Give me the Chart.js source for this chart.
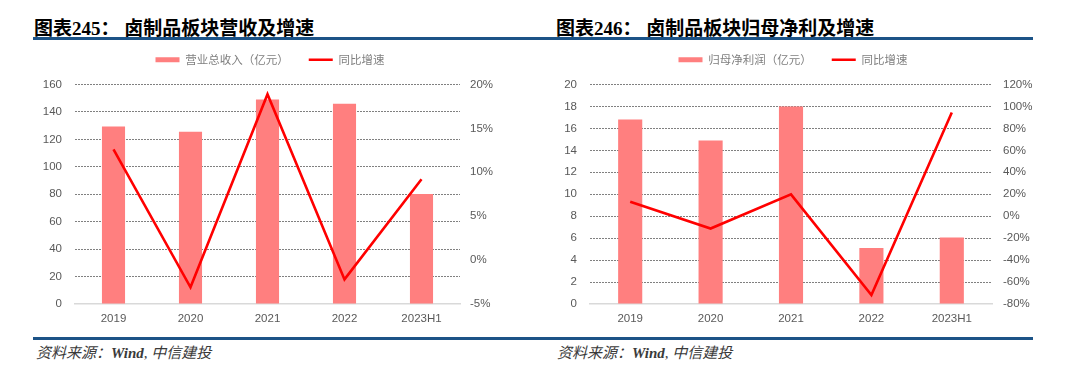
<!DOCTYPE html>
<html>
<head>
<meta charset="utf-8">
<script src="https://cdn.jsdelivr.net/npm/chart.js@4.4.1/dist/chart.umd.min.js"></script>
<style>
  body { margin: 0; width: 1080px; height: 387px; background: #fff; position: relative; overflow: hidden; }
  .title { position: absolute; top: 13px; line-height: 22px; font: bold 19px "Liberation Serif", "Noto Sans CJK SC", serif; color: #000; white-space: pre; }
  .rule { position: absolute; left: 33px; width: 1000px; height: 3px; background: #1c5387; }
  .note { position: absolute; top: 341px; line-height: 20px; font: italic 15px "Liberation Serif", "Noto Sans CJK SC", serif; color: #3a3a3a; }
  .box { position: absolute; top: 34px; width: 540px; height: 300px; }
</style>
</head>
<body>
<div class="title" style="left:34px">图表245： 卤制品板块营收及增速</div>
<div class="title" style="left:556px">图表246： 卤制品板块归母净利及增速</div>
<div class="rule" style="top:37px"></div>
<div class="rule" style="top:337px"></div>
<div class="note" style="left:36px">资料来源：<b>Wind</b>, 中信建投</div>
<div class="note" style="left:557px">资料来源：<b>Wind</b>, 中信建投</div>
<div class="box" style="left:0"><canvas id="c1" width="540" height="300"></canvas></div>
<div class="box" style="left:540px"><canvas id="c2" width="540" height="300"></canvas></div>
<script>
const years = ['2019', '2020', '2021', '2022', '2023H1'];

// 图表245
const revenue = [129.3, 125.6, 149.0, 146.0, 80.1];        // 营业总收入（亿元）
const revenueGrowth = [12.6, -3.1, 18.9, -2.2, 9.2];       // 同比增速 %

// 图表246
const profit = [16.8, 14.9, 18.0, 5.1, 6.05];              // 归母净利润（亿元）
const profitGrowth = [13.2, -11.2, 19.9, -71.9, 94.4];     // 同比增速 %

const barColor = '#ff7f7f';
const lineColor = '#ff0000';
const tickFont = { family: '"Liberation Sans", Arial, sans-serif', size: 11.5 };
const tickColor = '#595959';

// push the plot down a bit below the legend
const legendGap = {
  id: 'legendGap',
  beforeInit(chart, args, opts) {
    const fit = chart.legend.fit;
    chart.legend.fit = function() {
      fit.call(this);
      this.height += opts.gap || 0;
    };
  }
};

const makeChart = function(id, cfg) {
  const ctx = document.getElementById(id).getContext('2d');
  return new Chart(ctx, {
    type: 'bar',
    data: {
      labels: years,
      datasets: [{
        type: 'bar',
        label: cfg.barLabel,
        data: cfg.bars,
        backgroundColor: barColor,
        borderWidth: 0,
        pointStyle: 'rect',
        yAxisID: 'y',
        order: 1,
        barPercentage: 0.6,
        categoryPercentage: 0.5
      }, {
        type: 'line',
        label: '同比增速',
        data: cfg.line,
        borderColor: lineColor,
        backgroundColor: lineColor,
        borderWidth: 2.6,
        tension: 0,
        pointRadius: 0,
        pointHoverRadius: 0,
        pointStyle: 'line',
        pointBorderWidth: 2.6,
        pointBorderColor: lineColor,
        yAxisID: 'y1',
        order: 0
      }]
    },
    options: {
      responsive: false,
      animation: false,
      events: [],
      layout: { padding: { left: 0, right: cfg.padRight, top: 0, bottom: 0 } },
      plugins: {
        legendGap: { gap: 9 },
        tooltip: { enabled: false },
        legend: {
          position: 'top',
          labels: {
            usePointStyle: true,
            pointStyleWidth: 24,
            boxHeight: 5,
            padding: 20,
            color: '#7f7f7f',
            font: { family: '"Noto Sans CJK SC", sans-serif', size: 11.5 },
            sort: (a, b) => a.datasetIndex - b.datasetIndex
          }
        }
      },
      scales: {
        x: {
          grid: { display: true, drawOnChartArea: false, drawTicks: false },
          border: { display: true, color: '#d9d9d9', width: 1.5 },
          ticks: { color: tickColor, font: tickFont, padding: 8 },
          afterFit: (s) => { s.height = 30; }
        },
        y: {
          position: 'left',
          min: cfg.yMin, max: cfg.yMax,
          ticks: { stepSize: cfg.yStep, color: tickColor, font: tickFont, padding: 13 },
          grid: {
            drawTicks: false,
            color: (c) => c.tick && c.tick.value === 0 ? 'rgba(0,0,0,0)' : '#808080',
            lineWidth: 1
          },
          border: { display: false, dash: [2, 1] },
          afterFit: (s) => { s.width = cfg.leftW; }
        },
        y1: {
          position: 'right',
          min: cfg.y1Min, max: cfg.y1Max,
          ticks: {
            stepSize: cfg.y1Step, color: tickColor, font: tickFont, padding: cfg.rightPad,
            callback: (v) => v + '%'
          },
          grid: { drawOnChartArea: false, drawTicks: false },
          border: { display: false },
          afterFit: (s) => { s.width = cfg.rightW; }
        }
      }
    },
    plugins: [legendGap]
  });
};

makeChart('c1', {
  barLabel: '营业总收入（亿元）',
  bars: revenue, line: revenueGrowth,
  yMin: 0, yMax: 160, yStep: 20,
  y1Min: -5, y1Max: 20, y1Step: 5,
  leftW: 75, rightW: 80, padRight: 0, rightPad: 10
});

makeChart('c2', {
  barLabel: '归母净利润（亿元）',
  bars: profit, line: profitGrowth,
  yMin: 0, yMax: 20, yStep: 2,
  y1Min: -80, y1Max: 120, y1Step: 20,
  leftW: 50, rightW: 54, padRight: 34, rightPad: 11
});
</script>
</body>
</html>
